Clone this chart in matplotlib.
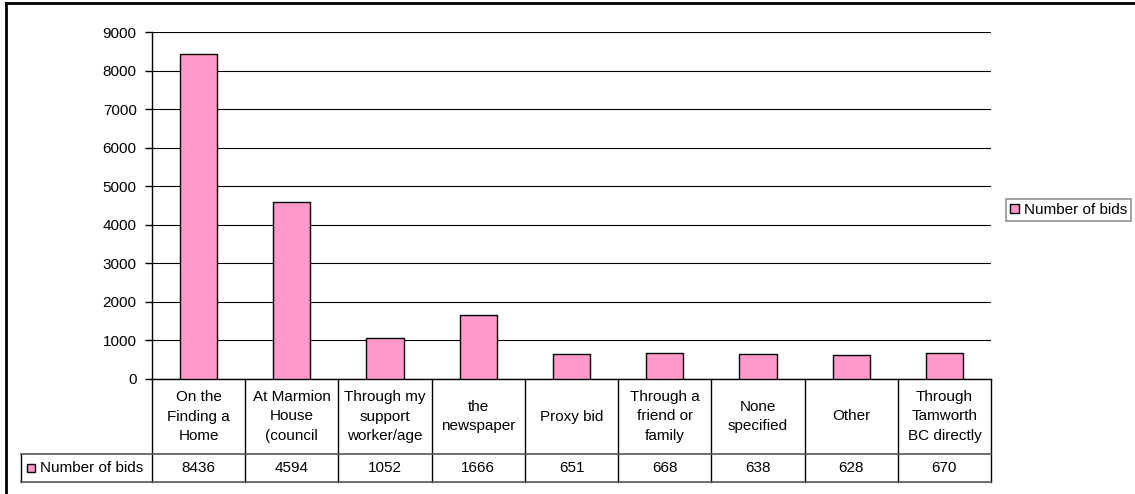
import matplotlib
matplotlib.use("Agg")
import matplotlib.pyplot as plt
from matplotlib.patches import Rectangle
from matplotlib.lines import Line2D
import matplotlib.transforms as mtransforms

categories = [
    "On the\nFinding a\nHome",
    "At Marmion\nHouse\n(council",
    "Through my\nsupport\nworker/age",
    "the\nnewspaper",
    "Proxy bid",
    "Through a\nfriend or\nfamily",
    "None\nspecified",
    "Other",
    "Through\nTamworth\nBC directly",
]
values = [8436, 4594, 1052, 1666, 651, 668, 638, 628, 670]
series_name = "Number of bids"
yticks = [0, 1000, 2000, 3000, 4000, 5000, 6000, 7000, 8000, 9000]

BAR = "#FF99CC"
FONT = "Liberation Sans"
FS = 11

plt.rcParams["font.family"] = [FONT, "DejaVu Sans"]

W, H = 1135, 494
fig = plt.figure(figsize=(W / 100, H / 100), dpi=100)

# pixel geometry of plot area
L, R, T, B = 152, 991, 32, 379
ax = fig.add_axes([L / W, 1 - B / H, (R - L) / W, (B - T) / H])

def axx(px):
    return (px - L) / (R - L)

def axy(py):
    return (B - py) / (B - T)

x = list(range(len(categories)))
ax.bar(x, values, width=0.4, color=BAR, edgecolor="black", linewidth=1.0, zorder=3)

ax.set_xlim(-0.5, len(categories) - 0.5)
ax.set_ylim(0, 9000)
ax.set_yticks(yticks)
ax.set_yticklabels([str(v) for v in yticks], fontsize=FS)
ax.tick_params(axis="y", length=5, width=1, pad=6, colors="black")
ax.set_xticks([])
ax.yaxis.grid(True, color="black", linewidth=0.8, zorder=0)
ax.set_axisbelow(True)
for s in ["top", "right"]:
    ax.spines[s].set_visible(False)
ax.spines["left"].set_color("black")
ax.spines["bottom"].set_color("black")
ax.spines["left"].set_linewidth(1.0)
ax.spines["bottom"].set_linewidth(1.0)

# ---- data table below the axis ----
blend = mtransforms.blended_transform_factory(ax.transData, ax.transAxes)
row1_bot = axy(454)
row2_bot = axy(482)
left_cell = axx(21)

cat_y = (0 + row1_bot) / 2
val_y = (row1_bot + row2_bot) / 2
for i, (c, v) in enumerate(zip(categories, values)):
    ax.text(i, cat_y, c, transform=blend, ha="center", va="center",
            fontsize=FS, linespacing=1.5, clip_on=False)
    ax.text(i, val_y, str(v), transform=blend, ha="center", va="center",
            fontsize=FS, clip_on=False)

# vertical separators
for k in range(len(categories) + 1):
    xb = k - 0.5
    ax.add_line(Line2D([xb, xb], [0, row2_bot], transform=blend, color="black",
                       linewidth=1.0, clip_on=False))
# left cell verticals
ax.add_line(Line2D([left_cell, left_cell], [row1_bot, row2_bot], transform=ax.transAxes,
                   color="black", linewidth=1.0, clip_on=False))
# horizontal lines
for yy in (row1_bot, row2_bot):
    ax.add_line(Line2D([left_cell, 1], [yy, yy], transform=ax.transAxes,
                       color="#555555", linewidth=1.2, clip_on=False))

# legend key in table
ax.add_patch(Rectangle((axx(27), val_y - 4 / (B - T)), 8 / (R - L), 8 / (B - T),
                       transform=ax.transAxes, facecolor=BAR, edgecolor="black",
                       linewidth=1.0, clip_on=False))
ax.text(axx(40), val_y, series_name, transform=ax.transAxes, ha="left", va="center",
        fontsize=FS, clip_on=False)

# ---- legend on right ----
handle = Rectangle((0, 0), 1, 1, facecolor=BAR, edgecolor="black", linewidth=1.0)
leg = fig.legend([handle], [series_name], loc="upper left",
                 bbox_to_anchor=(1006 / W, 1 - 199 / H), bbox_transform=fig.transFigure,
                 fontsize=FS, frameon=True, fancybox=False, borderpad=0.25,
                 handlelength=0.6, handleheight=0.6, handletextpad=0.35,
                 borderaxespad=0)
leg.get_frame().set_edgecolor("#777777")
leg.get_frame().set_linewidth(1.2)

# ---- outer chart border (left and top visible) ----
fig.add_artist(Line2D([6 / W, 6 / W], [0, 1 - 3 / H], transform=fig.transFigure,
                      color="black", linewidth=2))
fig.add_artist(Line2D([6 / W, 1], [1 - 3 / H, 1 - 3 / H], transform=fig.transFigure,
                      color="black", linewidth=2))

fig.savefig("out.png", dpi=100)
